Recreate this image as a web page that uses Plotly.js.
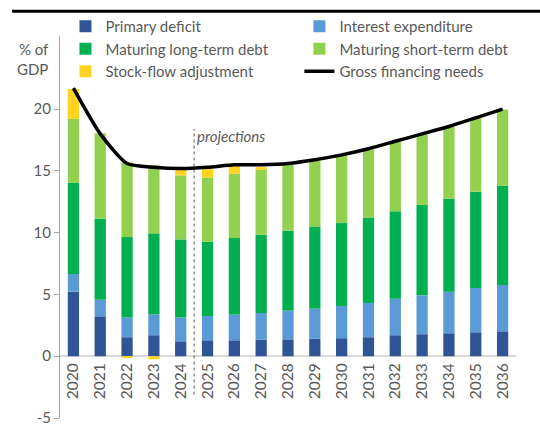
<!DOCTYPE html>
<html>
<head>
<meta charset="utf-8">
<script src="https://cdn.plot.ly/plotly-3.0.1.min.js"></script>
<style>html,body{margin:0;padding:0;background:#fff;}#chart{width:540px;height:426px;}</style>
</head>
<body>
<div id="chart"></div>
<script>
const years = ['2020','2021','2022','2023','2024','2025','2026','2027','2028','2029','2030','2031','2032','2033','2034','2035','2036'];
const primaryDeficit = [5.23, 3.23, 1.54, 1.70, 1.21, 1.29, 1.29, 1.35, 1.37, 1.43, 1.46, 1.54, 1.70, 1.78, 1.86, 1.94, 2.02];
const interestExpenditure = [1.43, 1.35, 1.59, 1.70, 1.92, 1.97, 2.08, 2.15, 2.32, 2.42, 2.61, 2.77, 2.96, 3.15, 3.37, 3.59, 3.75];
const maturingLongTerm = [7.38, 6.55, 6.52, 6.55, 6.33, 6.01, 6.20, 6.34, 6.47, 6.61, 6.71, 6.93, 7.07, 7.33, 7.52, 7.79, 8.03];
const maturingShortTerm = [5.18, 6.93, 6.04, 5.52, 5.18, 5.20, 5.20, 5.25, 5.34, 5.36, 5.45, 5.53, 5.63, 5.72, 5.82, 5.95, 6.15];
const stockFlowAdj = [2.42, 0.0, -0.15, -0.25, 0.51, 0.68, 0.65, 0.22, 0, 0, 0, 0, 0, 0, 0, 0, 0];
const grossFinancingNeeds = [21.7, 18.0, 15.6, 15.3, 15.2, 15.3, 15.5, 15.5, 15.6, 15.9, 16.3, 16.8, 17.4, 18.0, 18.6, 19.3, 20.0];
const yTicks = [-5, 0, 5, 10, 15, 20];

const font = "Lato, 'Open Sans', sans-serif";
const grey = '#595959';

function barTrace(name, y, color, legendId) {
  return {type: 'bar', name: name, x: years, y: y, legend: legendId,
          marker: {color: color, line: {width: 0}}, hoverinfo: 'skip'};
}

const data = [
  barTrace('Primary deficit', primaryDeficit, '#2F5597', 'legend'),
  barTrace('Interest expenditure', interestExpenditure, '#5B9BD5', 'legend2'),
  barTrace('Maturing long-term debt', maturingLongTerm, '#00B050', 'legend'),
  barTrace('Maturing short-term debt', maturingShortTerm, '#92D050', 'legend2'),
  barTrace('Stock-flow adjustment', stockFlowAdj, '#FFD320', 'legend'),
  {type: 'scatter', mode: 'lines', name: 'Gross financing needs', x: years, y: grossFinancingNeeds,
   legend: 'legend2',
   line: {color: '#000000', width: 3.5, shape: 'spline', smoothing: 0.6}, hoverinfo: 'skip'}
];

const plotTop = 36, plotBottom = 418.5;
const zeroPos = (plotBottom - 356.7) / (plotBottom - plotTop);

const legendBase = {orientation: 'v', y: 1.068, xanchor: 'left', yanchor: 'top',
  bgcolor: 'rgba(0,0,0,0)', font: {family: font, size: 15, color: grey}, itemwidth: 30,
  traceorder: 'normal', tracegroupgap: 0};

const layout = {
  width: 540, height: 426,
  margin: {l: 60, r: 24, t: plotTop, b: 426 - plotBottom, pad: 0},
  paper_bgcolor: '#ffffff', plot_bgcolor: '#ffffff',
  font: {family: font, size: 15, color: grey},
  barmode: 'relative',
  bargap: 0.58,
  showlegend: true,
  legend: Object.assign({}, legendBase, {x: 0.012}),
  legend2: Object.assign({}, legendBase, {x: 0.525}),
  xaxis: {type: 'category', anchor: 'free', position: zeroPos, showline: false, showgrid: false,
          ticks: '', tickangle: -90, ticklabelstandoff: 3,
          tickfont: {family: font, size: 15.5, color: grey},
          range: [-0.5, 16.5], fixedrange: true},
  yaxis: {range: [-5, (356.7 - plotTop) / 12.37], tickvals: yTicks, ticktext: yTicks.map(String),
          showgrid: false, zeroline: true, zerolinecolor: '#D9D9D9', zerolinewidth: 1.5,
          showline: true, linecolor: '#A6A6A6', linewidth: 1, ticks: 'outside', ticklen: 5,
          ticklabeloverflow: 'allow',
          tickcolor: '#A6A6A6', tickfont: {family: font, size: 15, color: grey}, fixedrange: true},
  shapes: [
    {type: 'line', xref: 'x', yref: 'y', x0: 4.5, x1: 4.5, y0: -3.1, y1: 18.4,
     line: {color: '#595959', width: 1, dash: 'dot'}},
    {type: 'line', xref: 'paper', yref: 'paper', x0: -0.105, x1: 1.06, y0: 1.065, y1: 1.065,
     line: {color: '#000000', width: 3}}
  ],
  annotations: [
    {text: 'projections', xref: 'x', yref: 'y', x: 4.55, y: 17.8, xanchor: 'left', yanchor: 'middle',
     showarrow: false, font: {family: font, size: 15, color: grey, style: 'italic'}},
    {text: '% of<br>GDP', xref: 'paper', yref: 'paper', x: -0.02, y: 0.94, xanchor: 'right', yanchor: 'middle',
     align: 'right', showarrow: false, font: {family: font, size: 15, color: grey}}
  ]
};

Plotly.newPlot('chart', data, layout, {displayModeBar: false, staticPlot: true});
</script>
</body>
</html>
